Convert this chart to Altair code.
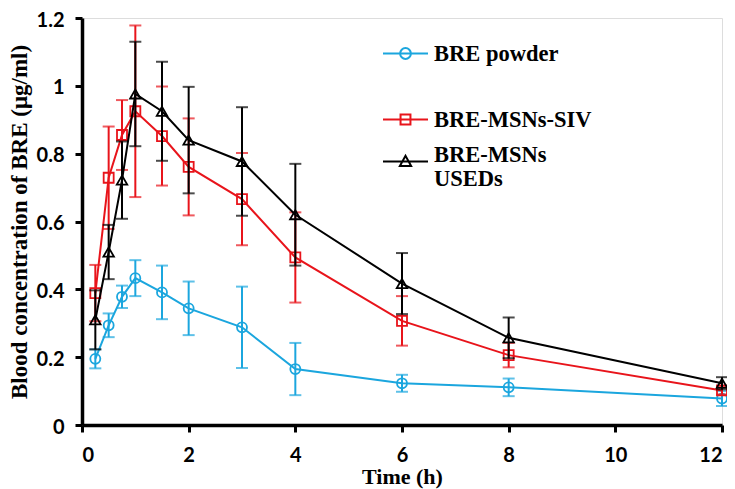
import altair as alt
import pandas as pd

times = [0.25, 0.5, 0.75, 1, 1.5, 2, 3, 4, 6, 8, 12]

powder_mean = [0.195, 0.294, 0.378, 0.433, 0.391, 0.344, 0.288, 0.165, 0.123, 0.111, 0.078]
powder_sd = [0.028, 0.035, 0.033, 0.053, 0.079, 0.079, 0.120, 0.077, 0.025, 0.026, 0.022]

siv_mean = [0.389, 0.729, 0.855, 0.925, 0.852, 0.761, 0.666, 0.494, 0.307, 0.206, 0.102]
siv_sd = [0.083, 0.151, 0.103, 0.253, 0.146, 0.143, 0.136, 0.133, 0.073, 0.036, 0.012]

used_mean = [0.310, 0.510, 0.722, 0.976, 0.925, 0.840, 0.777, 0.620, 0.417, 0.257, 0.123]
used_sd = [0.087, 0.080, 0.114, 0.154, 0.146, 0.157, 0.160, 0.150, 0.090, 0.060, 0.018]

series_names = ["BRE powder", "BRE-MSNs-SIV", "BRE-MSNs USEDs"]
series_colors = ["#1BA6DE", "#E8141B", "#000000"]
x_ticks = [0, 2, 4, 6, 8, 10, 12]
y_ticks = [0, 0.2, 0.4, 0.6, 0.8, 1.0, 1.2]

SERIF = "Liberation Serif"
SANS = "Lato"

x_axis = alt.Axis(values=x_ticks, title="Time (h)", grid=False,
                  domainColor="black", domainWidth=3.5, tickColor="black",
                  tickWidth=3, tickSize=7, labelPadding=13,
                  labelFont=SANS, labelFontWeight="bold", labelFontSize=20,
                  labelColor="black", titleFont=SERIF, titleFontWeight="bold",
                  titleFontSize=22, titleColor="black", titlePadding=1)
y_axis = alt.Axis(values=y_ticks, format="~g", title="Blood concentration of BRE (μg/ml)",
                  grid=False, domainColor="black", domainWidth=3.5, tickColor="black",
                  tickWidth=3, tickSize=7, labelPadding=11, labelOffset=2,
                  labelFont=SANS, labelFontWeight="bold", labelFontSize=20,
                  labelColor="black", titleFont=SERIF, titleFontWeight="bold",
                  titleFontSize=23, titleColor="black", titlePadding=5)

X = alt.X("time:Q", scale=alt.Scale(domain=[0, 12], nice=False), axis=x_axis)
Y = alt.Y("conc:Q", scale=alt.Scale(domain=[0, 1.2], nice=False), axis=y_axis)

L = "M-1,0L1,0"
sym_circle = L + "M-0.24,0A0.24,0.24,0,1,0,0.24,0A0.24,0.24,0,1,0,-0.24,0Z"
sym_square = L + "M-0.22,-0.22L0.22,-0.22L0.22,0.22L-0.22,0.22Z"
sym_tri = L + "M-0.25,0.2L0,-0.25L0.25,0.2Z"


def series_layer(name, color, shape, size, mean, sd, legend_sym, lx, ly, label_expr=None, baseline="middle"):
    df = pd.DataFrame({
        "time": times,
        "conc": mean,
        "lo": [m - s for m, s in zip(mean, sd)],
        "hi": [m + s for m, s in zip(mean, sd)],
        "series": [name] * len(times),
    })
    base = alt.Chart(df)
    leg_kwargs = dict(orient="none", legendX=lx, legendY=ly, title=None,
                      symbolType=legend_sym, symbolSize=2025, symbolStrokeWidth=2,
                      symbolFillColor="white", labelFont=SERIF, labelFontWeight="bold",
                      labelFontSize=22.5, labelColor="black", labelLimit=400,
                      labelOffset=5, labelBaseline=baseline, padding=0)
    if label_expr:
        leg_kwargs["labelExpr"] = label_expr
    line = base.mark_line(strokeWidth=2).encode(
        x=X, y=Y,
        color=alt.Color("series:N", scale=alt.Scale(domain=[name], range=[color]),
                        legend=alt.Legend(**leg_kwargs)),
    )
    rule = base.mark_rule(color=color, strokeWidth=2).encode(
        x=X, y=alt.Y("lo:Q"), y2="hi:Q")
    cap_lo = base.mark_tick(color=color, orient="horizontal", size=12, thickness=2).encode(
        x=X, y=alt.Y("lo:Q"))
    cap_hi = base.mark_tick(color=color, orient="horizontal", size=12, thickness=2).encode(
        x=X, y=alt.Y("hi:Q"))
    pts = base.mark_point(shape=shape, filled=False, size=size, strokeWidth=1.8,
                          color=color, opacity=1).encode(x=X, y=Y)
    return alt.layer(rule, cap_lo, cap_hi, line, pts)


blue = series_layer(series_names[0], series_colors[0], "circle", 100, powder_mean, powder_sd,
                    sym_circle, 300, 12)
red = series_layer(series_names[1], series_colors[1], "square", 100, siv_mean, siv_sd,
                   sym_square, 300, 78)
black = series_layer(series_names[2], series_colors[2], "triangle-up", 110, used_mean, used_sd,
                     sym_tri, 300, 120, label_expr="['BRE-MSNs', 'USEDs']", baseline="alphabetic")

chart = alt.layer(blue, red, black).resolve_scale(color="independent").properties(
    width=640, height=407,
    autosize=alt.AutoSizeParams(type="none"),
    padding={"left": 74, "top": 10, "right": 5, "bottom": 64},
).configure_view(stroke=None).configure(background="white")

chart.save("out.html", embed_options={"renderer": "svg", "actions": False})
